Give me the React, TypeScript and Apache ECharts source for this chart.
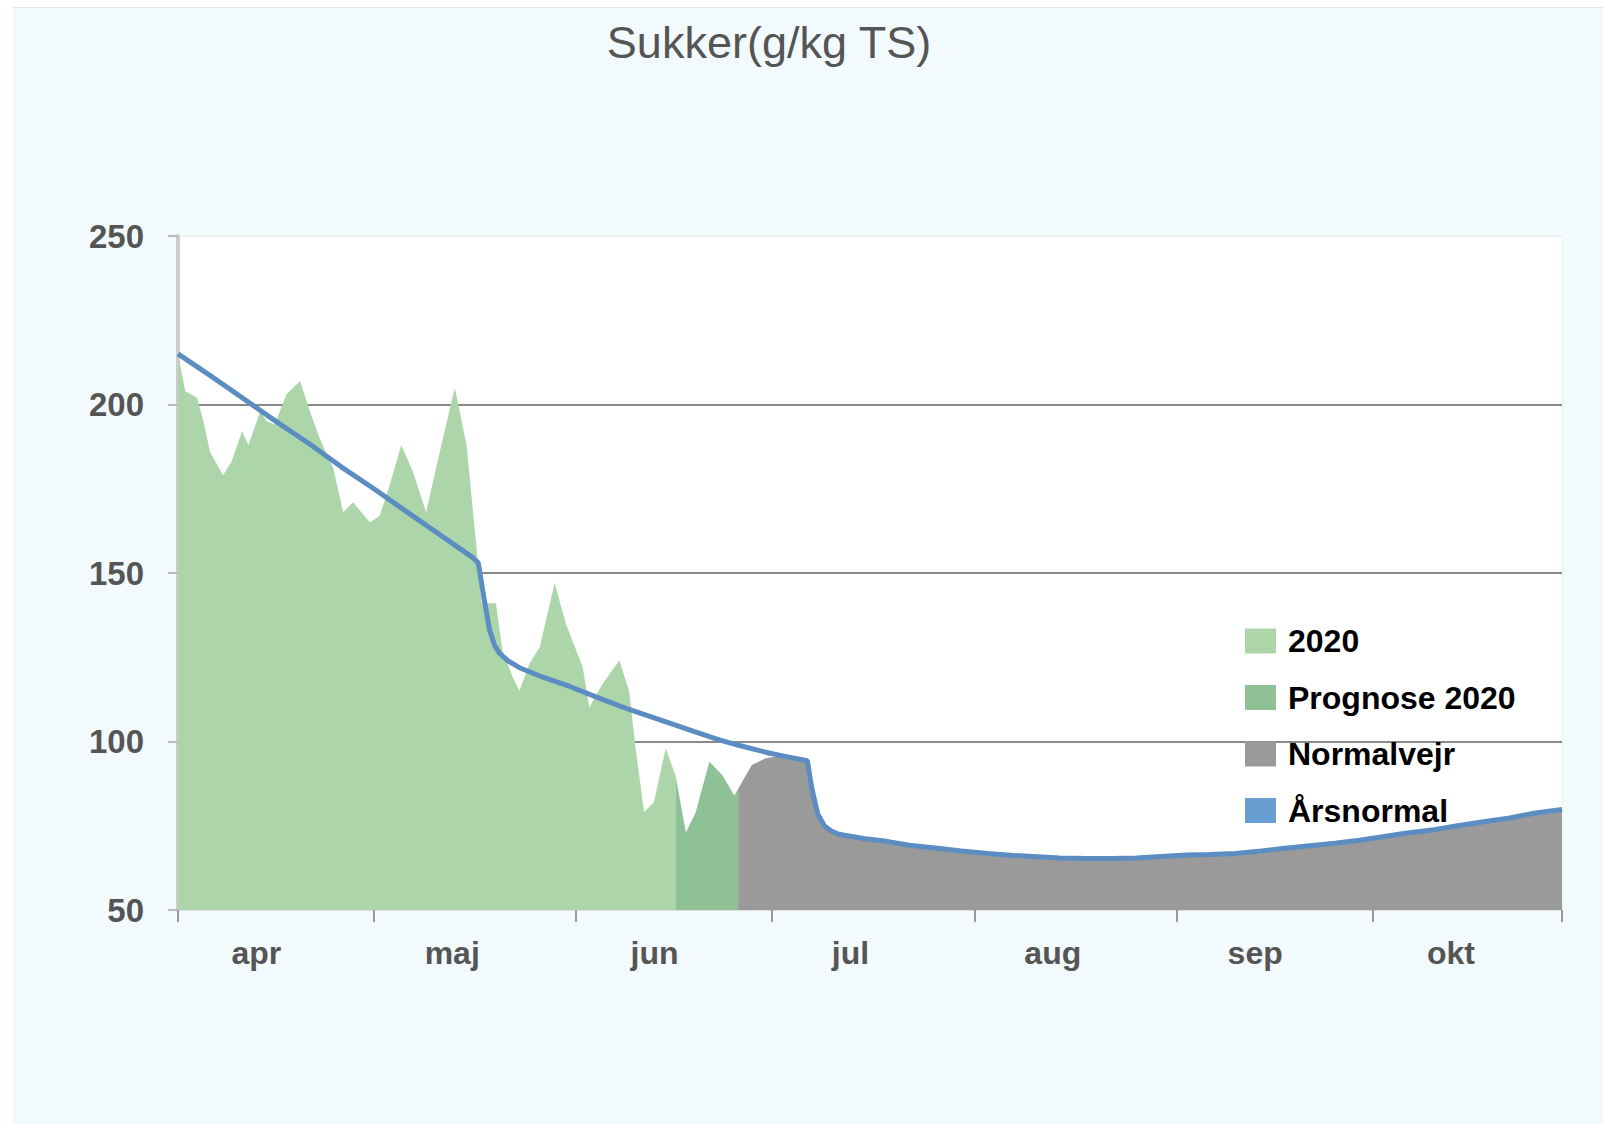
import React, { useEffect, useRef } from "react";
import * as echarts from "echarts";

// x = days since 1 April
const monthNames = ["apr", "maj", "jun", "jul", "aug", "sep", "okt"];
const monthTickDays = [0, 30, 61, 91, 122, 153, 183, 212];
const monthLabelDays = [12, 42, 73, 103, 134, 165, 195];
const yTicks = [50, 100, 150, 200, 250];

const sugar2020: [number, number][] = [
  [0, 212], [0.3, 212], [1.1, 204], [2.9, 202], [3.9, 195], [4.9, 186], [6.9, 179],
  [8.2, 183], [9.8, 192], [10.8, 188], [12.6, 198], [13.6, 195], [14.8, 194],
  [16.6, 203], [18.7, 207], [20.2, 198], [21.7, 190], [23.8, 181], [25.3, 168],
  [26.8, 171], [29.4, 165], [30.9, 167], [32.4, 176], [34.2, 188], [36, 180],
  [38, 168], [40.1, 186], [42.4, 205], [44.2, 188], [45.7, 158], [46.5, 141],
  [48.7, 141], [49.7, 127], [51.3, 119], [52.3, 115], [53.8, 123], [55.4, 128],
  [57.7, 147], [59.4, 135], [62, 122], [63, 110], [65, 117], [67.6, 124],
  [69.1, 115], [70.1, 98], [71.4, 79], [72.9, 82], [74.7, 98], [76.2, 90],
];

const prognose2020: [number, number][] = [
  [76.2, 90], [77.8, 73], [79.3, 79], [81.4, 94], [83.4, 90], [85.2, 84], [85.8, 86],
];

const normalvejrStart: [number, number][] = [
  [85.8, 86], [86.4, 88], [87.9, 93], [90, 95], [92, 95.6], [94, 95.2],
];

const aarsnormal: [number, number][] = [
  [0, 215], [5, 208.5], [10, 201.8], [15, 195], [20, 188.5], [25, 181.5], [30, 175],
  [35, 168.2], [40, 161.5], [45, 154.8], [46, 153], [46.9, 142.2], [47.7, 133.3],
  [48.5, 128.5], [49.2, 126.3], [50.5, 124], [52.3, 121.9], [56, 119], [59.9, 116.4],
  [65, 112.5], [69.1, 109.5], [75.2, 105.5], [79, 103], [82.9, 100.5], [86, 98.8],
  [90.5, 96.6], [93, 95.6], [96.4, 94.3], [97.1, 86], [98, 78.5], [99, 75],
  [100, 73.5], [101.2, 72.5], [105, 71.2], [108.8, 70.3], [112, 69.2], [116.4, 68.3],
  [120, 67.5], [124, 66.8], [128, 66.2], [131.6, 65.8], [135, 65.4], [139.2, 65.3],
  [143, 65.3], [146.8, 65.4], [150, 65.8], [154.4, 66.3], [158, 66.5], [162, 66.8],
  [166, 67.5], [169.6, 68.3], [173, 69], [177.2, 69.8], [181, 70.7], [184.8, 71.8],
  [188, 72.8], [192.4, 73.8], [196, 75], [200, 76.2], [204, 77.3], [207.7, 78.7],
  [212, 79.8],
];

const normalvejr: [number, number][] = normalvejrStart.concat(
  aarsnormal.filter((p) => p[0] >= 96.4)
);

const FONT = "'Liberation Sans', Arial, sans-serif";

export default function App() {
  const ref = useRef<HTMLDivElement>(null);

  useEffect(() => {
    if (!ref.current) return;
    const chart = echarts.init(ref.current, undefined, { renderer: "svg" });
    const areaSeries = (name: string, data: [number, number][], color: string) => ({
      name,
      type: "line",
      data,
      symbol: "none",
      showSymbol: false,
      lineStyle: { width: 0, color },
      itemStyle: { color },
      areaStyle: { color, opacity: 1, origin: "start" },
      z: 2,
    });
    chart.setOption({
      animation: false,
      textStyle: { fontFamily: FONT },
      title: {
        text: "Sukker(g/kg TS)",
        left: 764,
        textAlign: "center",
        top: 15,
        textStyle: { fontSize: 45, fontWeight: "normal", color: "#555", fontFamily: FONT },
      },
      legend: {
        orient: "vertical",
        left: 1240,
        top: 620,
        itemWidth: 31,
        itemHeight: 25,
        itemGap: 24.5,
        icon: "rect",
        selectedMode: false,
        textStyle: { fontSize: 32, fontWeight: "bold", color: "#000", fontFamily: FONT, padding: [0, 0, 0, 7] },
        data: ["2020", "Prognose 2020", "Normalvejr", "Årsnormal"],
      },
      grid: {
        left: 178,
        right: 41,
        top: 236,
        bottom: 214,
        show: true,
        backgroundColor: "#ffffff",
        borderColor: "#eeeeee",
        borderWidth: 1,
      },
      xAxis: {
        type: "value",
        min: 0,
        max: 212,
        splitLine: { show: false },
        axisLine: { show: true, lineStyle: { color: "#dddddd", width: 1 } },
        axisTick: {
          show: true,
          customValues: monthTickDays,
          length: 12,
          lineStyle: { color: "#999", width: 2 },
        },
        axisLabel: {
          customValues: monthLabelDays,
          formatter: (v: number) => monthNames[monthLabelDays.indexOf(Math.round(v))] ?? "",
          fontSize: 32,
          fontWeight: "bold",
          color: "#555",
          margin: 27,
          fontFamily: FONT,
        },
      },
      yAxis: {
        type: "value",
        min: yTicks[0],
        max: yTicks[yTicks.length - 1],
        interval: 50,
        offset: 3,
        axisLine: { show: true, lineStyle: { color: "#cccccc", width: 4 } },
        axisTick: { show: true, length: 10, lineStyle: { color: "#bbbbbb", width: 2 } },
        axisLabel: {
          fontSize: 33,
          fontWeight: "bold",
          color: "#555",
          margin: 31,
          fontFamily: FONT,
        },
        splitLine: {
          show: true,
          lineStyle: { color: ["#dddddd", "#8a8a8a", "#8a8a8a", "#8a8a8a", "#f0f0f0"], width: 2 },
        },
      },
      series: [
        areaSeries("2020", sugar2020, "#acd6aa"),
        areaSeries("Prognose 2020", prognose2020, "#8fc196"),
        areaSeries("Normalvejr", normalvejr, "#9a9a9a"),
        {
          name: "Årsnormal",
          type: "line",
          data: aarsnormal,
          symbol: "none",
          showSymbol: false,
          lineStyle: { width: 5, color: "#5b8cc2" },
          itemStyle: { color: "#689fd2" },
          z: 4,
        },
      ],
    });
    return () => chart.dispose();
  }, []);

  return (
    <div style={{ position: "fixed", left: 0, top: 0, width: 1603, height: 1124, background: "#ffffff" }}>
      <div
        style={{
          position: "absolute",
          left: 13,
          top: 7,
          right: 0,
          bottom: 0,
          background: "#f3fafd",
          borderTop: "1px solid #e4e8ea",
        }}
      />
      <div ref={ref} style={{ position: "absolute", left: 0, top: 0, width: 1603, height: 1124 }} />
    </div>
  );
}
